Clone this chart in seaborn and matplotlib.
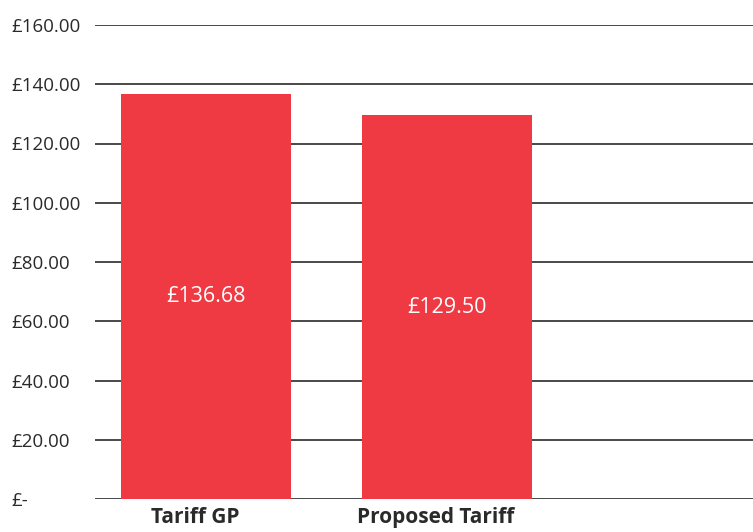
import pandas as pd
import matplotlib.pyplot as plt
import matplotlib.transforms as mtransforms
import seaborn as sns

# values
tariffs = ["Tariff GP", "Proposed Tariff"]
costs = [136.68, 129.50]
y_ticks = [0, 20, 40, 60, 80, 100, 120, 140, 160]
y_labels = ["£-", "£20.00", "£40.00", "£60.00", "£80.00", "£100.00", "£120.00", "£140.00", "£160.00"]

df = pd.DataFrame({"tariff": tariffs, "cost": costs})

sns.set_style("white")
plt.rcParams['font.family'] = ['Open Sans', 'DejaVu Sans']

fig = plt.figure(figsize=(7.53, 5.32), dpi=100)
ax = fig.add_axes([95 / 753, 1 - 499 / 532, 1 - 95 / 753, (499 - 25) / 532])

# gridlines behind the bars
for t in y_ticks:
    ax.axhline(t, color="#2a2a2a", lw=1.2, zorder=0)

sns.barplot(x="tariff", y="cost", data=df, color="#EF3A43", width=0.705,
            saturation=1, linewidth=0, ax=ax, zorder=2)

ax.set_ylim(0, 160)
ax.set_xlim(-0.46, 2.27)
ax.set_yticks(y_ticks)
ax.set_yticklabels(y_labels, fontsize=13.5, color="#2a2a2a", ha="left")
ax.tick_params(axis="y", length=0, pad=60)
ax.tick_params(axis="x", length=0, pad=6)
ax.set_xticks(range(len(tariffs)))
ax.set_xticklabels(tariffs, fontsize=15, fontweight="bold", color="#2a2a2a")
# the category labels sit a little left of the bar centres
shift = mtransforms.ScaledTranslation(-11 / 100, 0, fig.dpi_scale_trans)
for lab in ax.get_xticklabels():
    lab.set_transform(lab.get_transform() + shift)
ax.set_xlabel("")
ax.set_ylabel("")
for s in ax.spines.values():
    s.set_visible(False)

# value labels in the middle of each bar
for i, v in enumerate(costs):
    ax.text(i, v / 2, "£%.2f" % v, ha="center", va="center",
            color="white", fontsize=15.5, zorder=3)

fig.savefig("out.png", dpi=100)
